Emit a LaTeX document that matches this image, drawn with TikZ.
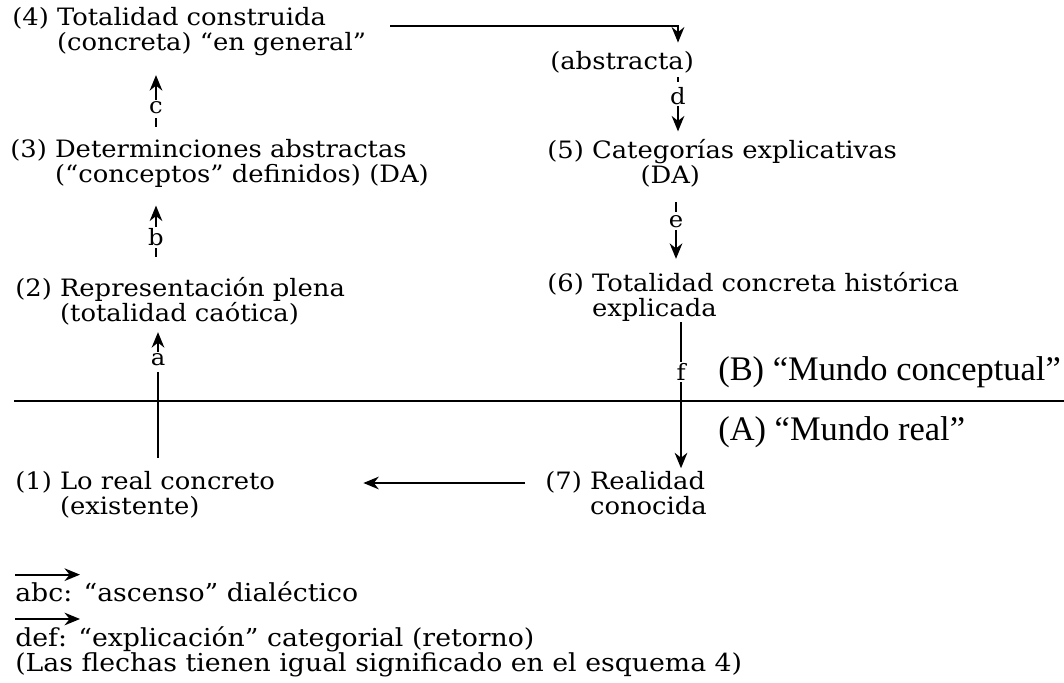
\documentclass[tikz,border=0pt]{standalone}
\usepackage{fontspec}
\setmainfont{DejaVu Serif}[FakeStretch=1.08]
\newfontfamily\mundofont{Liberation Serif}
\usetikzlibrary{arrows.meta}

\begin{document}
\begin{tikzpicture}[x=0.025cm, y=-0.025cm,
  texto/.style={anchor=north west, align=left, inner sep=0pt, font=\fontsize{17}{17.8}\selectfont},
  leyenda/.style={texto, font=\fontsize{17.6}{18.2}\selectfont},
  letra/.style={inner sep=1pt, font=\fontsize{16}{16}\selectfont},
  mundo/.style={anchor=west, inner sep=0pt, font=\mundofont\fontsize{24.5}{24.5}\selectfont},
  flecha/.style={-{Stealth[length=11pt,width=9pt]}, line width=1.4pt},
  linea/.style={line width=1.4pt}]
  \useasboundingbox (0,0) rectangle (1064,683);

  % Mundo conceptual
  \node[texto] (n4) at (12,7) {(4) Totalidad construida\\\phantom{(4) }(concreta) “en general”};
  \node[texto] (nab) at (550,51) {(abstracta)};
  \node[texto] (n3) at (10,139) {(3) Determinciones abstractas\\\phantom{(3) }(“conceptos” definidos) (DA)};
  \node[texto] (n5) at (547,139) {(5) Categorías explicativas\\\hspace*{3.9em}(DA)};
  \node[texto] (n2) at (15,277) {(2) Representación plena\\\phantom{(2) }(totalidad caótica)};
  \node[texto] (n6) at (547,272) {(6) Totalidad concreta histórica\\\phantom{(6) }explicada};

  % Mundo real
  \node[texto] (n1) at (15,471) {(1) Lo real concreto\\\phantom{(1) }(existente)};
  \node[texto] (n7) at (545,471) {(7) Realidad\\\phantom{(7) }conocida};

  % Linea divisoria
  \draw[line width=1.7pt] (14,401) -- (1064,401);
  \node[mundo] (mB) at (718,372) {(B) “Mundo conceptual”};
  \node[mundo] (mA) at (718,432) {(A) “Mundo real”};

  % Ascenso: a, b, c
  \node[letra] (la) at (158,360) {a};
  \draw[flecha] (la.north) -- ++(0,-20);
  \draw[linea] (la.south) ++(0,4) -- ++(0,86);
  \node[letra] (lb) at (156,237) {b};
  \draw[flecha] (lb.north) -- ++(0,-21);
  \draw[linea] (lb.south) ++(0,1) -- ++(0,9);
  \node[letra] (lc) at (156,108) {c};
  \draw[flecha] (lc.north) -- ++(0,-25);
  \draw[linea] (lc.south) ++(0,2) -- ++(0,9);

  % Explicacion: d, e, f
  \draw[flecha] ([shift={(0.6cm,4pt)}]n4.east) -| ([yshift=6pt]nab.north -| 678,0);
  \node[letra] (ld) at (678,96) {d};
  \draw[linea] (ld.north) ++(0,-4) -- ++(0,-5);
  \draw[flecha] (ld.south) -- ++(0,25);
  \node[letra] (le) at (676,222) {e};
  \draw[linea] (le.north) ++(0,-2) -- ++(0,-10);
  \draw[flecha] (le.south) -- ++(0,29);
  \node[letra] (lf) at (681,372) {f};
  \draw[linea] (lf.north) -- ++(0,-40);
  \draw[flecha] (lf.south) -- ++(0,86);

  % Retorno
  \draw[flecha] ([shift={(-0.5cm,-0.3cm)}]n7.north west) -- ([shift={(2.2cm,-0.3cm)}]n1.north east);

  % Leyenda
  \node[leyenda, anchor=west] (labc) at (15,592) {abc: “ascenso” dialéctico};
  \node[leyenda] (ldef) at (15,626) {def: “explicación” categorial (retorno)\\(Las flechas tienen igual significado en el esquema 4)};
  \draw[flecha] (labc.north west) ++(0,-7) -- ++(65,0);
  \draw[flecha] (ldef.north west) ++(0,-7) -- ++(65,0);
\end{tikzpicture}
\end{document}
